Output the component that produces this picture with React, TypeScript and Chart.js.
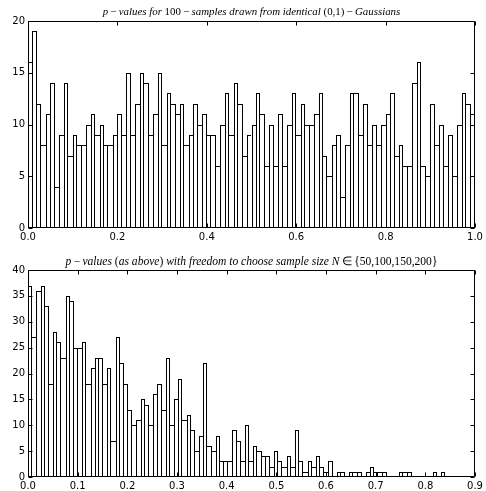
import React, { useEffect, useRef } from "react";
import { Chart, registerables } from "chart.js";

Chart.register(...registerables);

// ---------------- data ----------------
const topCounts = [
  16, 19, 12, 8, 11, 14, 4, 9, 14, 7,
  9, 8, 8, 10, 11, 9, 10, 8, 8, 9,
  11, 9, 15, 9, 12, 15, 14, 9, 11, 15,
  8, 13, 12, 11, 12, 8, 9, 12, 10, 11,
  9, 9, 6, 10, 13, 9, 14, 12, 7, 9,
  10, 13, 11, 6, 10, 6, 11, 6, 10, 13,
  9, 12, 10, 10, 11, 13, 7, 5, 8, 9,
  3, 8, 13, 13, 9, 12, 8, 10, 8, 10,
  11, 13, 7, 8, 6, 6, 14, 16, 6, 5,
  12, 8, 10, 6, 9, 5, 10, 13, 12, 11,
];
const topBinWidth = 0.01;
const topXMax = 1.0;
const topYMax = 20;
const topXTicks = [0, 0.2, 0.4, 0.6, 0.8, 1.0];
const topYTicks = [0, 5, 10, 15, 20];

const bottomCounts = [
  37, 27, 36, 37, 33, 18, 28, 26, 23, 35,
  34, 25, 25, 26, 18, 21, 23, 23, 18, 21,
  7, 27, 22, 18, 13, 10, 11, 15, 14, 10,
  16, 18, 13, 23, 10, 15, 19, 11, 12, 9,
  5, 8, 22, 6, 5, 8, 3, 3, 3, 9,
  7, 3, 10, 3, 6, 5, 4, 4, 2, 5,
  3, 2, 4, 2, 9, 3, 1, 3, 2, 4,
  2, 1, 3, 0, 1, 1, 0, 1, 1, 1,
  0, 1, 2, 1, 1, 1, 0, 0, 0, 1,
  1, 1, 0, 0, 0, 0, 0, 1, 0, 1,
];
const bottomBinWidth = 0.0084;
const bottomXMax = 0.9;
const bottomYMax = 40;
const bottomXTicks = [0, 0.1, 0.2, 0.3, 0.4, 0.5, 0.6, 0.7, 0.8, 0.9];
const bottomYTicks = [0, 5, 10, 15, 20, 25, 30, 35, 40];

// title segments: [text, italic]
type Seg = [string, boolean];
const topTitle: Seg[] = [
  ["p", true], ["\u2009\u2212\u2009", false], ["values for ", true], ["100", false],
  ["\u2009\u2212\u2009", false], ["samples drawn from identical ", true], ["(0,1)", false],
  ["\u2009\u2212\u2009", false], ["Gaussians", true],
];
const bottomTitle: Seg[] = [
  ["p", true], ["\u2009\u2212\u2009", false], ["values ", true], ["(", false], ["as above", true],
  [")", false], [" with freedom to choose sample size ", true], ["N", true],
  ["\u2009\u2208\u2009", false], ["{50,100,150,200}", false],
];

// ---------------- layout constants ----------------
const W = 486;
const H = 491;
const AREA_LEFT = 28;
const AREA_RIGHT = 475;
const X_AXIS_H = 14;
const TICK_FONT = { family: "DejaVu Sans", size: 10 };
const TITLE_FAMILY = "Liberation Serif";

function edgeWidths(counts: number[]) {
  return (ctx: any) => {
    const i = ctx.dataIndex;
    if (i === undefined) return 1;
    const h = counts[i];
    const prev = i > 0 ? counts[i - 1] : -1;
    const next = i < counts.length - 1 ? counts[i + 1] : -1;
    return { top: 1, bottom: 0, left: h > prev ? 1 : 0, right: h >= next ? 1 : 0 };
  };
}

// snap bar rectangles (computed by the scales) to whole pixels, like matplotlib does
const snapBars = {
  id: "snapBars",
  beforeDatasetsDraw(chart: any) {
    chart.getSortedVisibleDatasetMetas().forEach((meta: any) => {
      meta.data.forEach((el: any) => {
        const l = Math.round(el.x - el.width / 2);
        const r = Math.round(el.x + el.width / 2);
        el.x = (l + r) / 2;
        el.width = r - l;
        el.y = Math.round(el.y);
        el.base = Math.round(el.base);
        el.height = el.base - el.y;
      });
    });
  },
};

function makeDecor(title: Seg[], titleY: number, titleWidth: number) {
  return {
    id: "decor",
    afterDraw(chart: any) {
      const { ctx, chartArea: a, scales } = chart;
      ctx.save();
      ctx.strokeStyle = "#000";
      ctx.lineWidth = 1;
      const x0 = Math.round(a.left) + 0.5;
      const x1 = Math.round(a.right) - 0.5;
      const y0 = Math.round(a.top) + 0.5;
      const y1 = Math.round(a.bottom) - 0.5;
      ctx.beginPath();
      ctx.rect(x0, y0, x1 - x0, y1 - y0);
      ctx.stroke();
      const tl = 4;
      ctx.beginPath();
      for (const t of scales.x.ticks) {
        const px = Math.round(scales.x.getPixelForValue(t.value)) + 0.5;
        ctx.moveTo(px, y1);
        ctx.lineTo(px, y1 - tl);
        ctx.moveTo(px, y0);
        ctx.lineTo(px, y0 + tl);
      }
      for (const t of scales.y.ticks) {
        const py = Math.round(scales.y.getPixelForValue(t.value)) + 0.5;
        ctx.moveTo(x0, py);
        ctx.lineTo(x0 + tl, py);
        ctx.moveTo(x1, py);
        ctx.lineTo(x1 - tl, py);
      }
      ctx.stroke();

      // title (mixed italic / upright runs), fitted to target width
      const base = 12;
      const fontFor = (it: boolean, s: number) => `${it ? "italic " : ""}${s}px "${TITLE_FAMILY}"`;
      let total = 0;
      for (const [txt, it] of title) {
        ctx.font = fontFor(it, base);
        total += ctx.measureText(txt).width;
      }
      const size = (base * titleWidth) / total;
      let w = 0;
      for (const [txt, it] of title) {
        ctx.font = fontFor(it, size);
        w += ctx.measureText(txt).width;
      }
      let x = (a.left + a.right) / 2 - w / 2;
      ctx.fillStyle = "#000";
      ctx.textBaseline = "alphabetic";
      ctx.textAlign = "left";
      for (const [txt, it] of title) {
        ctx.font = fontFor(it, size);
        ctx.fillText(txt, x, titleY);
        x += ctx.measureText(txt).width;
      }
      ctx.restore();
    },
  };
}

type PanelProps = {
  counts: number[];
  binWidth: number;
  xMax: number;
  yMax: number;
  xTicks: number[];
  yTicks: number[];
  title: Seg[];
  titleY: number;
  titleWidth: number;
  areaTop: number;
  areaBottom: number;
};

function Panel(p: PanelProps) {
  const ref = useRef<HTMLCanvasElement>(null);
  useEffect(() => {
    const canvas = ref.current!;
    const data = p.counts.map((c, i) => ({ x: (i + 0.5) * p.binWidth, y: c }));
    const chart = new Chart(canvas, {
      type: "bar",
      data: {
        datasets: [
          {
            data,
            backgroundColor: "#ffffff",
            borderColor: "#000000",
            borderWidth: edgeWidths(p.counts) as any,
            borderSkipped: "start",
            inflateAmount: 0,
            barPercentage: 1,
            categoryPercentage: 1,
          } as any,
        ],
      },
      options: {
        animation: false,
        responsive: false,
        devicePixelRatio: 1,
        events: [],
        layout: {
          padding: {
            top: p.areaTop,
            bottom: Math.max(0, H - p.areaBottom - X_AXIS_H),
            left: 0,
            right: W - AREA_RIGHT,
          },
        },
        plugins: {
          legend: { display: false },
          tooltip: { enabled: false },
          title: { display: false },
        },
        scales: {
          x: {
            type: "linear",
            min: 0,
            max: p.xMax,
            offset: false,
            grid: { display: false, drawTicks: false },
            border: { display: false },
            ticks: {
              font: TICK_FONT,
              color: "#000",
              padding: 3,
              maxRotation: 0,
              autoSkip: false,
              callback: (v: any) => Number(v).toFixed(1),
            },
            afterBuildTicks: (s: any) => {
              s.ticks = p.xTicks.map((v) => ({ value: v }));
            },
            afterFit: (s: any) => {
              s.height = X_AXIS_H;
            },
          },
          y: {
            type: "linear",
            min: 0,
            max: p.yMax,
            grid: { display: false, drawTicks: false },
            border: { display: false },
            ticks: {
              font: TICK_FONT,
              color: "#000",
              padding: 3,
              callback: (v: any) => String(v),
            },
            afterBuildTicks: (s: any) => {
              s.ticks = p.yTicks.map((v) => ({ value: v }));
            },
            afterFit: (s: any) => {
              s.width = AREA_LEFT;
            },
          },
        },
      } as any,
      plugins: [snapBars, makeDecor(p.title, p.titleY, p.titleWidth)],
    });
    return () => chart.destroy();
  }, []);
  return (
    <canvas
      ref={ref}
      width={W}
      height={H}
      style={{ position: "absolute", left: 0, top: 0, width: W, height: H }}
    />
  );
}

export default function App() {
  useEffect(() => {
    document.body.style.margin = "0";
  }, []);
  return (
    <div style={{ position: "absolute", left: 0, top: 0, width: W, height: H, background: "#fff" }}>
      <Panel
        counts={topCounts}
        binWidth={topBinWidth}
        xMax={topXMax}
        yMax={topYMax}
        xTicks={topXTicks}
        yTicks={topYTicks}
        title={topTitle}
        titleY={15}
        titleWidth={298}
        areaTop={21}
        areaBottom={228}
      />
      <Panel
        counts={bottomCounts}
        binWidth={bottomBinWidth}
        xMax={bottomXMax}
        yMax={bottomYMax}
        xTicks={bottomXTicks}
        yTicks={bottomYTicks}
        title={bottomTitle}
        titleY={265}
        titleWidth={372}
        areaTop={270}
        areaBottom={477}
      />
    </div>
  );
}
